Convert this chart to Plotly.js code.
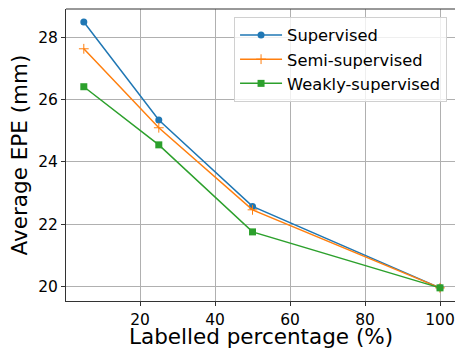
<!DOCTYPE html>
<html>
<head>
<script src="https://cdn.plot.ly/plotly-3.0.1.min.js"></script>
<style>html,body{margin:0;padding:0;background:#fff;}#chart{width:455px;height:350px;}</style>
</head>
<body>
<div id="chart"></div>
<script>
const percentages = [5, 25, 50, 100];
const supervised = [28.5, 25.35, 22.57, 19.95];
const semiSupervised = [27.64, 25.1, 22.46, 19.95];
const weaklySupervised = [26.42, 24.55, 21.75, 19.95];
const seriesNames = ["Supervised", "Semi-supervised", "Weakly-supervised"];
const xTicks = [20, 40, 60, 80, 100];
const yTicks = [20, 22, 24, 26, 28];
const xTitle = "Labelled percentage (%)";
const yTitle = "Average EPE (mm)";

const FONT = "DejaVu Sans, sans-serif";
const traces = [
  {x: percentages, y: supervised, name: seriesNames[0], type: "scatter", mode: "lines+markers",
   line: {color: "#1f77b4", width: 1.5}, marker: {symbol: "circle", size: 7, color: "#1f77b4"}},
  {x: percentages, y: semiSupervised, name: seriesNames[1], type: "scatter", mode: "lines+markers",
   line: {color: "#ff7f0e", width: 1.5}, marker: {symbol: "cross-thin-open", size: 7, color: "#ff7f0e", line: {color: "#ff7f0e", width: 1}}},
  {x: percentages, y: weaklySupervised, name: seriesNames[2], type: "scatter", mode: "lines+markers",
   line: {color: "#2ca02c", width: 1.5}, marker: {symbol: "square", size: 7, color: "#2ca02c"}}
];

const layout = {
  width: 455, height: 350,
  margin: {l: 66, r: 0, t: 9, b: 49, pad: 0},
  paper_bgcolor: "#fff", plot_bgcolor: "#fff",
  font: {family: FONT, color: "#000", size: 15},
  showlegend: true,
  legend: {x: 0.432, y: 0.973, xanchor: "left", yanchor: "top",
    bgcolor: "rgba(255,255,255,0.8)", bordercolor: "#d0d0d0", borderwidth: 1,
    font: {family: FONT, size: 16.3, color: "#000"}, tracegroupgap: 0, itemwidth: 42},
  xaxis: {range: [0.25, 104.0], tickvals: xTicks, ticktext: xTicks.map(String),
    showgrid: true, gridcolor: "#b0b0b0", gridwidth: 1, zeroline: false,
    showline: true, linecolor: "#333", linewidth: 1,
    ticks: "outside", ticklen: 4, tickcolor: "#333", tickwidth: 1,
    tickfont: {family: FONT, size: 15.5, color: "#000"}},
  yaxis: {range: [19.527, 28.92], tickvals: yTicks, ticktext: yTicks.map(String),
    showgrid: true, gridcolor: "#b0b0b0", gridwidth: 1, zeroline: false,
    showline: true, linecolor: "#333", linewidth: 1,
    ticks: "outside", ticklen: 4, tickcolor: "#333", tickwidth: 1,
    tickfont: {family: FONT, size: 15.5, color: "#000"},
    title: {text: yTitle, font: {family: FONT, size: 21.5, color: "#000"}, standoff: 4}},
  annotations: [{text: xTitle, xref: "paper", yref: "paper", x: 0.5, y: 0,
    xanchor: "center", yanchor: "top", yshift: -21, showarrow: false,
    font: {family: FONT, size: 21.5, color: "#000"}}],
  shapes: [{type: "line", xref: "paper", yref: "paper", x0: 0, x1: 1, y0: 1, y1: 1,
    line: {color: "#333", width: 1}}]
};

Plotly.newPlot("chart", traces, layout, {displayModeBar: false, staticPlot: true});
</script>
</body>
</html>
